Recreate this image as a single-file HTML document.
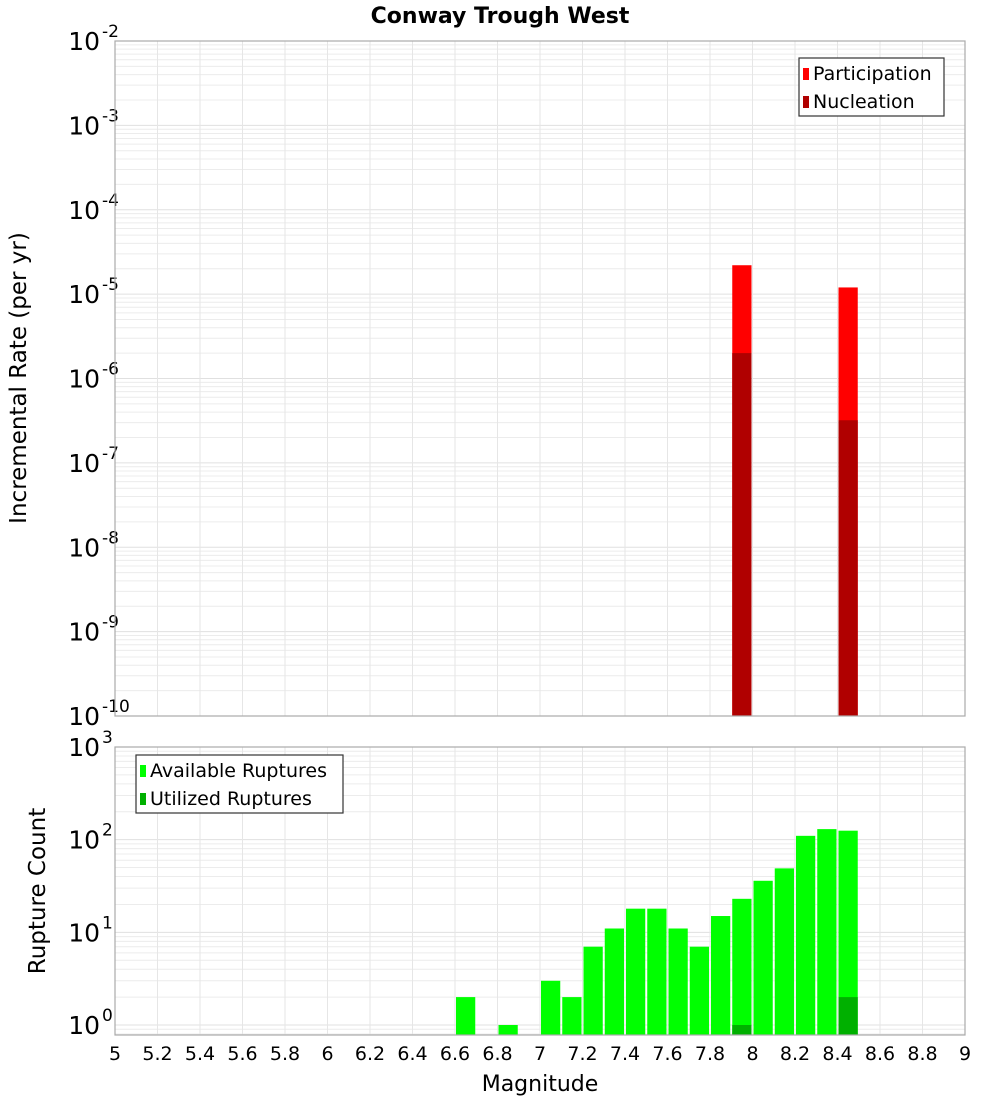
<!DOCTYPE html>
<html><head><meta charset="utf-8"><style>
body{margin:0;background:#fff;font-family:"DejaVu Sans","Liberation Sans",sans-serif}
svg text{font-family:"DejaVu Sans","Liberation Sans",sans-serif}
</style></head><body>
<svg id="c" width="1000" height="1100" xmlns="http://www.w3.org/2000/svg"></svg>
<script>
const binCenters=[7.95,8.45];
const participation=[2.2e-5,1.2e-5];
const nucleation=[2.0e-6,3.2e-7];
const countBins=[6.65,6.85,7.05,7.15,7.25,7.35,7.45,7.55,7.65,7.75,7.85,7.95,8.05,8.15,8.25,8.35,8.45];
const available=[2,1,3,2,7,11,18,18,11,7,15,23,36,49,110,130,125];
const utilizedBins=[7.95,8.45];
const utilized=[1,2];
const xTicks=[5,5.2,5.4,5.6,5.8,6,6.2,6.4,6.6,6.8,7,7.2,7.4,7.6,7.8,8,8.2,8.4,8.6,8.8,9];
const topExps=[-10,-9,-8,-7,-6,-5,-4,-3,-2];
const botExps=[0,1,2,3];

const NS="http://www.w3.org/2000/svg";
const svg=document.getElementById('c');
function el(t,a,p){const e=document.createElementNS(NS,t);for(const k in a)e.setAttribute(k,a[k]);(p||svg).appendChild(e);return e;}
const X0=115,X1=965;
const xs=m=>X0+(m-5)/(9-5)*(X1-X0);
const T={y0:41,y1:716,lo:-10,hi:-2};
const B={y0:747,y1:1035,lo:Math.log10(0.78),hi:3};
const ys=(P,v)=>P.y1-(Math.log10(v)-P.lo)/(P.hi-P.lo)*(P.y1-P.y0);

function panel(P,exps,name){
  const g=el('g',{});
  
  
  for(let e=Math.floor(P.lo);e<P.hi;e++){for(let k=1;k<10;k++){const v=k*Math.pow(10,e);const y=ys(P,v);if(y<P.y0-0.5||y>P.y1+0.5)continue;
    el('line',{x1:X0,x2:X1,y1:y,y2:y,stroke:k==1?'#e0e0e0':'#ececec','stroke-width':1},g);}}
  xTicks.forEach(t=>{const x=xs(t);el('line',{x1:x,x2:x,y1:P.y0,y2:P.y1,stroke:'#e6e6e6','stroke-width':1},g);});
  exps.forEach(e=>{const y=ys(P,Math.pow(10,e));
    const t=el('text',{x:100,y:y+9,'text-anchor':'end','font-size':25,fill:'#000'});
    
    
    t.textContent='10';
    const s=el('text',{x:102,y:y-4,'font-size':17,fill:'#000'});
    
    
    s.textContent=String(e);});
}
panel(T,topExps,'rate');
panel(B,botExps,'count');

const w=xs(0.1)-xs(0);
binCenters.forEach((m,i)=>{
  const r=el('rect',{x:xs(m)-w/2+1,y:ys(T,participation[i]),width:w-2,height:T.y1-ys(T,participation[i]),fill:'#ff0000'});
  
  
  const n=el('rect',{x:xs(m)-w/2+1,y:ys(T,nucleation[i]),width:w-2,height:T.y1-ys(T,nucleation[i]),fill:'#b00000'});
  
  
});
countBins.forEach((m,i)=>{
  const r=el('rect',{x:xs(m)-w/2+1,y:ys(B,available[i]),width:w-2,height:B.y1-ys(B,available[i]),fill:'#00ff00'});
  
  
});
utilizedBins.forEach((m,i)=>{
  const r=el('rect',{x:xs(m)-w/2+1,y:ys(B,utilized[i]),width:w-2,height:B.y1-ys(B,utilized[i]),fill:'#00b000'});
  
  
});
[T,B].forEach(P=>{el('rect',{x:X0,y:P.y0,width:X1-X0,height:P.y1-P.y0,fill:'none',stroke:'#aaa','stroke-width':1.2});});
xTicks.forEach(t=>{const tx=el('text',{x:xs(t),y:1060,'text-anchor':'middle','font-size':19,fill:'#000'});
  
  
  tx.textContent=String(t);});

function legend(x,y,wd,items,name){
  const g=el('g',{});
  
  
  el('rect',{x:x,y:y,width:wd,height:58,fill:'#fff',stroke:'#333','stroke-width':1.2},g);
  items.forEach((it,i)=>{el('rect',{x:x+4,y:y+10+i*28,width:6,height:12,fill:it[1]},g);
    const t=el('text',{x:x+14,y:y+22+i*28,'font-size':19,fill:'#000'},g);t.textContent=it[0];});
}
legend(799,58,145,[['Participation','#ff0000'],['Nucleation','#b00000']],'rate-legend');
legend(136,755,207,[['Available Ruptures','#00ff00'],['Utilized Ruptures','#00b000']],'count-legend');

const tt=el('text',{x:500,y:23,'text-anchor':'middle','font-size':22,'font-weight':'bold'});


tt.textContent='Conway Trough West';
const xl=el('text',{x:540,y:1091,'text-anchor':'middle','font-size':22});


xl.textContent='Magnitude';
const yl=el('text',{x:0,y:0,'text-anchor':'middle','font-size':23,transform:'translate(26,378) rotate(-90)'});


yl.textContent='Incremental Rate (per yr)';
const yl2=el('text',{x:0,y:0,'text-anchor':'middle','font-size':23,transform:'translate(45,891) rotate(-90)'});


yl2.textContent='Rupture Count';
</script>
</body></html>
